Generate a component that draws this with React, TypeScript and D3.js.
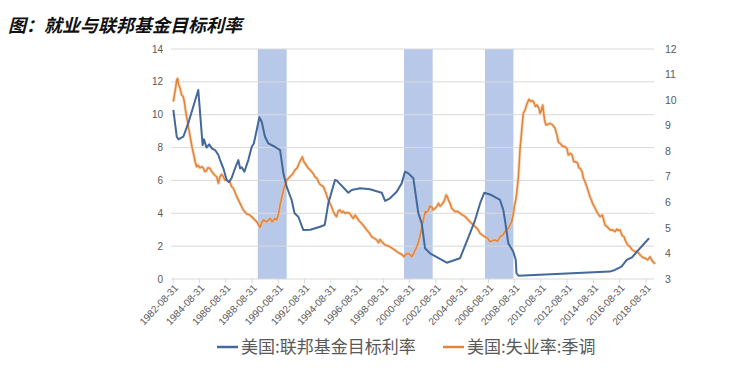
import React from "react";
import * as d3 from "d3";

const title = "图：就业与联邦基金目标利率";
const seriesNames = ["美国:联邦基金目标利率", "美国:失业率:季调"];

// x tick labels (every two years, 08-31)
const tickYears = [1982, 1984, 1986, 1988, 1990, 1992, 1994, 1996, 1998, 2000, 2002, 2004, 2006, 2008, 2010, 2012, 2014, 2016, 2018];
const leftTicks = [0, 2, 4, 6, 8, 10, 12, 14];
const rightTicks = [3, 4, 5, 6, 7, 8, 9, 10, 11, 12];

// shaded periods (decimal years)
const bandStarts = [1989.1, 2000.24, 2006.4];
const bandEnds = [1991.3, 2002.42, 2008.57];

// Fed funds target rate (left axis), decimal year
const fedDates = [
  1982.67, 1982.93, 1983.05, 1983.43, 1983.8, 1984.57, 1984.9, 1985.0, 1985.2, 1985.4,
  1985.6, 1985.85, 1986.1, 1986.23, 1986.48, 1986.73, 1986.9, 1987.1, 1987.37, 1987.62,
  1987.75, 1987.88, 1988.08, 1988.38, 1988.64, 1988.8, 1989.02, 1989.22, 1989.4, 1989.65,
  1989.9, 1990.4, 1990.8, 1991.05, 1991.3, 1991.68, 1991.9, 1992.19, 1992.57, 1993.1,
  1993.84, 1994.2, 1994.47, 1994.98, 1995.1, 1996.0, 1996.25, 1996.9, 1997.65, 1998.54,
  1998.8, 1999.17, 1999.68, 2000.06, 2000.31, 2000.57, 2000.95, 2001.33, 2001.59, 2001.84,
  2002.22, 2003.49, 2004.5, 2005.26, 2005.65, 2006.03, 2006.35, 2006.9, 2007.55, 2007.8,
  2007.98, 2008.18, 2008.56, 2008.75, 2008.8, 2008.95, 2015.9, 2016.3, 2016.8, 2017.2,
  2017.6, 2018.1, 2018.9,
];
const fedValues = [
  10.3, 8.66, 8.5, 8.66, 9.47, 11.5, 8.15, 8.5, 8.0, 8.2,
  7.95, 7.85, 7.55, 7.24, 6.74, 6.03, 5.9, 6.13, 6.74, 7.24,
  6.74, 6.8, 6.53, 7.24, 8.05, 8.25, 9.07, 9.84, 9.57, 8.66,
  8.26, 8.05, 7.85, 6.43, 5.62, 4.81, 4.0, 3.79, 2.98, 3.0,
  3.18, 3.29, 4.6, 6.03, 6.0, 5.25, 5.42, 5.52, 5.46, 5.25,
  4.75, 4.91, 5.31, 5.82, 6.53, 6.43, 6.13, 4.0, 3.39, 1.87,
  1.56, 0.99, 1.26, 2.78, 3.59, 4.6, 5.25, 5.11, 4.81, 4.2,
  3.29, 2.17, 1.66, 1.16, 0.35, 0.2, 0.45, 0.55, 0.75, 1.16,
  1.32, 1.77, 2.48,
];

// Unemployment rate, seasonally adjusted (right axis)
const unempDates = [
  1982.67, 1982.85, 1982.93, 1983.0, 1983.05, 1983.18, 1983.3, 1983.42, 1983.5, 1983.6,
  1983.77, 1983.95, 1984.1, 1984.2, 1984.35, 1984.45, 1984.55, 1984.7, 1984.83, 1984.96,
  1985.08, 1985.2, 1985.3, 1985.46, 1985.58, 1985.7, 1985.85, 1985.97, 1986.1, 1986.22,
  1986.35, 1986.48, 1986.6, 1986.73, 1986.98, 1987.1, 1987.24, 1987.5, 1987.75, 1988.0,
  1988.26, 1988.5, 1988.77, 1989.02, 1989.28, 1989.4, 1989.53, 1989.78, 1990.04, 1990.2,
  1990.4, 1990.53, 1990.66, 1990.8, 1991.05, 1991.3, 1991.55, 1991.75, 1991.93, 1992.1,
  1992.3, 1992.5, 1992.6, 1992.7, 1992.8, 1992.95, 1993.08, 1993.2, 1993.33, 1993.45,
  1993.6, 1993.72, 1993.84, 1994.1, 1994.3, 1994.47, 1994.7, 1994.86, 1995.0, 1995.1,
  1995.22, 1995.36, 1995.5, 1995.62, 1995.75, 1995.9, 1996.1, 1996.25, 1996.38, 1996.5,
  1996.6, 1996.8, 1997.0, 1997.2, 1997.4, 1997.6, 1997.78, 1997.95, 1998.16, 1998.3,
  1998.4, 1998.54, 1998.8, 1999.0, 1999.17, 1999.35, 1999.55, 1999.75, 1999.93, 2000.1,
  2000.24, 2000.4, 2000.57, 2000.7, 2000.83, 2000.95, 2001.08, 2001.2, 2001.34, 2001.47,
  2001.6, 2001.75, 2001.85, 2001.95, 2002.1, 2002.2, 2002.35, 2002.45, 2002.6, 2002.75,
  2002.86, 2002.98, 2003.1, 2003.3, 2003.45, 2003.55, 2003.62, 2003.75, 2003.88, 2004.0,
  2004.14, 2004.3, 2004.52, 2004.7, 2004.9, 2005.05, 2005.26, 2005.45, 2005.65, 2005.85,
  2006.03, 2006.2, 2006.4, 2006.6, 2006.78, 2006.95, 2007.16, 2007.35, 2007.55, 2007.75,
  2007.93, 2008.05, 2008.18, 2008.3, 2008.43, 2008.55, 2008.64, 2008.75, 2008.82, 2008.95,
  2009.07, 2009.2, 2009.32, 2009.45, 2009.57, 2009.75, 2009.9, 2010.0, 2010.1, 2010.25,
  2010.35, 2010.5, 2010.6, 2010.7, 2010.8, 2010.85, 2010.95, 2011.04, 2011.2, 2011.36,
  2011.5, 2011.6, 2011.74, 2011.9, 2012.0, 2012.12, 2012.3, 2012.5, 2012.65, 2012.75,
  2012.9, 2013.05, 2013.15, 2013.27, 2013.45, 2013.55, 2013.65, 2013.8, 2013.9, 2014.03,
  2014.2, 2014.4, 2014.5, 2014.6, 2014.8, 2014.95, 2015.17, 2015.35, 2015.45, 2015.55,
  2015.7, 2015.8, 2015.93, 2016.1, 2016.3, 2016.45, 2016.55, 2016.7, 2016.85, 2017.0,
  2017.07, 2017.25, 2017.45, 2017.6, 2017.84, 2018.0, 2018.22, 2018.4, 2018.6, 2018.8,
  2018.98, 2019.15, 2019.36,
];
const unempValues = [
  9.94, 10.5, 10.79, 10.85, 10.65, 10.46, 10.2, 10.15, 9.95, 9.6,
  9.09, 8.57, 8.15, 7.92, 7.55, 7.39, 7.45, 7.35, 7.4, 7.33,
  7.2, 7.24, 7.35, 7.33, 7.22, 7.13, 7.05, 7.0, 6.74, 7.0,
  7.1, 7.0, 6.87, 6.87, 6.8, 6.62, 6.55, 6.22, 5.96, 5.7,
  5.54, 5.5, 5.37, 5.24, 5.02, 5.2, 5.31, 5.24, 5.37, 5.24,
  5.37, 5.31, 5.5, 5.9, 6.48, 6.87, 7.0, 7.1, 7.26, 7.35,
  7.59, 7.78, 7.6, 7.53, 7.45, 7.33, 7.28, 7.2, 7.12, 7.0,
  6.95, 6.8, 6.7, 6.61, 6.35, 6.09, 5.85, 5.63, 5.5, 5.44,
  5.65, 5.7, 5.6, 5.65, 5.57, 5.6, 5.57, 5.45, 5.37, 5.5,
  5.45, 5.28, 5.18, 5.05, 4.92, 4.8, 4.65, 4.6, 4.53, 4.42,
  4.55, 4.46, 4.33, 4.3, 4.26, 4.2, 4.13, 4.05, 4.0, 3.95,
  3.87, 3.98, 4.0, 3.95, 3.87, 3.98, 4.13, 4.25, 4.46, 4.7,
  5.05, 5.4, 5.63, 5.6, 5.7, 5.85, 5.83, 5.7, 5.76, 5.85,
  5.96, 5.85, 5.9, 6.05, 6.29, 6.2, 6.09, 5.95, 5.76, 5.7,
  5.63, 5.65, 5.57, 5.5, 5.44, 5.35, 5.24, 5.15, 5.05, 4.95,
  4.79, 4.72, 4.65, 4.6, 4.46, 4.5, 4.53, 4.48, 4.65, 4.72,
  4.85, 4.95, 4.98, 5.1, 5.24, 5.5, 5.83, 6.1, 6.35, 7.0,
  8.05, 8.8, 9.48, 9.6, 9.81, 10.03, 9.95, 9.98, 9.94, 9.75,
  9.81, 9.7, 9.48, 9.6, 9.81, 9.6, 9.2, 9.03, 9.05, 9.09,
  9.05, 9.0, 8.9, 8.6, 8.35, 8.31, 8.2, 8.18, 8.1, 7.85,
  7.92, 7.85, 7.6, 7.59, 7.55, 7.35, 7.33, 7.2, 6.95, 6.8,
  6.55, 6.22, 6.1, 5.95, 5.76, 5.6, 5.44, 5.5, 5.3, 5.11,
  5.05, 5.0, 4.92, 4.93, 4.85, 4.95, 4.9, 4.92, 4.7, 4.65,
  4.53, 4.35, 4.26, 4.15, 4.07, 4.08, 3.94, 3.85, 3.81, 3.75,
  3.87, 3.7, 3.59,
];

const W = 736;
const H = 392;
const BLUE = "#44689a";
const ORANGE = "#e3843a";
const GRID = "#d9d9d9";
const TXT = "#595959";
const CJK = "'Noto Sans CJK SC', 'Noto Sans', sans-serif";
const NUM = "'Liberation Sans', 'DejaVu Sans', sans-serif";

export default function App() {
  const x = d3.scaleLinear().domain([1982.667, 2018.667]).range([173.3, 646]);
  const yL = d3.scaleLinear().domain([0, 14]).range([279, 49]);
  const yR = d3.scaleLinear().domain([3, 12]).range([279, 49]);
  const xMin = 171;
  const xMax = 654;

  const fedLine = d3
    .line<number>()
    .x((_, i) => x(fedDates[i]))
    .y((d) => yL(d))(fedValues) as string;
  const unLine = d3
    .line<number>()
    .x((_, i) => x(unempDates[i]))
    .y((d) => yR(d))(unempValues) as string;

  return (
    <svg
      width={W}
      height={H}
      style={{ position: "absolute", left: 0, top: 0, background: "#fff" }}
    >
      <rect width={W} height={H} fill="#fff" />
      <text
        x={8}
        y={32}
        fontFamily={CJK}
        fontSize={18}
        fontWeight="bold"
        fontStyle="italic"
        fill="#111"
      >
        {title}
      </text>

      {/* shaded periods */}
      {bandStarts.map((s, i) => (
        <rect
          key={"b" + i}
          x={x(s)}
          y={yL(14)}
          width={x(bandEnds[i]) - x(s)}
          height={yL(0) - yL(14)}
          fill="#b7c8e8"
        />
      ))}

      {/* gridlines */}
      {leftTicks.map((t) => (
        <line key={"g" + t} x1={xMin} x2={xMax} y1={yL(t)} y2={yL(t)} stroke={GRID} strokeWidth={1} />
      ))}
      {/* x-axis ticks */}
      {tickYears.map((yv) => (
        <line
          key={"t" + yv}
          x1={x(yv + 0.667)}
          x2={x(yv + 0.667)}
          y1={yL(0)}
          y2={yL(0) + 4}
          stroke={GRID}
        />
      ))}

      {/* left axis labels */}
      {leftTicks.map((t) => (
        <text key={"l" + t} x={163} y={yL(t)} dy="0.35em" textAnchor="end" fontFamily={NUM} fontSize={10} fill={TXT}>
          {t}
        </text>
      ))}
      {/* right axis labels */}
      {rightTicks.map((t) => (
        <text key={"r" + t} x={665} y={yR(t)} dy="0.35em" textAnchor="start" fontFamily={NUM} fontSize={10.5} fill={TXT}>
          {t}
        </text>
      ))}
      {/* bottom labels */}
      {tickYears.map((yv) => (
        <text
          key={"x" + yv}
          transform={`translate(${x(yv + 0.667) + 3},${yL(0) + 7}) rotate(-47)`}
          dy="0.35em"
          textAnchor="end"
          fontFamily={NUM}
          fontSize={10}
          fill={TXT}
        >
          {`${yv}-08-31`}
        </text>
      ))}

      {/* unemployment line with halo */}
      <path d={unLine} fill="none" stroke="#f4c79e" strokeWidth={3.4} strokeOpacity={0.55} strokeLinejoin="round" />
      <path d={unLine} fill="none" stroke={ORANGE} strokeWidth={1.6} strokeLinejoin="round" />
      {/* fed funds line */}
      <path d={fedLine} fill="none" stroke={BLUE} strokeWidth={2} strokeLinejoin="round" />

      {/* legend */}
      <line x1={217} x2={238} y1={347} y2={347} stroke={BLUE} strokeWidth={2.5} />
      <text x={241} y={353} fontFamily={CJK} fontSize={17} fill={TXT}>
        {seriesNames[0]}
      </text>
      <line x1={443} x2={464} y1={347} y2={347} stroke={ORANGE} strokeWidth={2.5} />
      <text x={467} y={353} fontFamily={CJK} fontSize={17} fill={TXT}>
        {seriesNames[1]}
      </text>
    </svg>
  );
}
